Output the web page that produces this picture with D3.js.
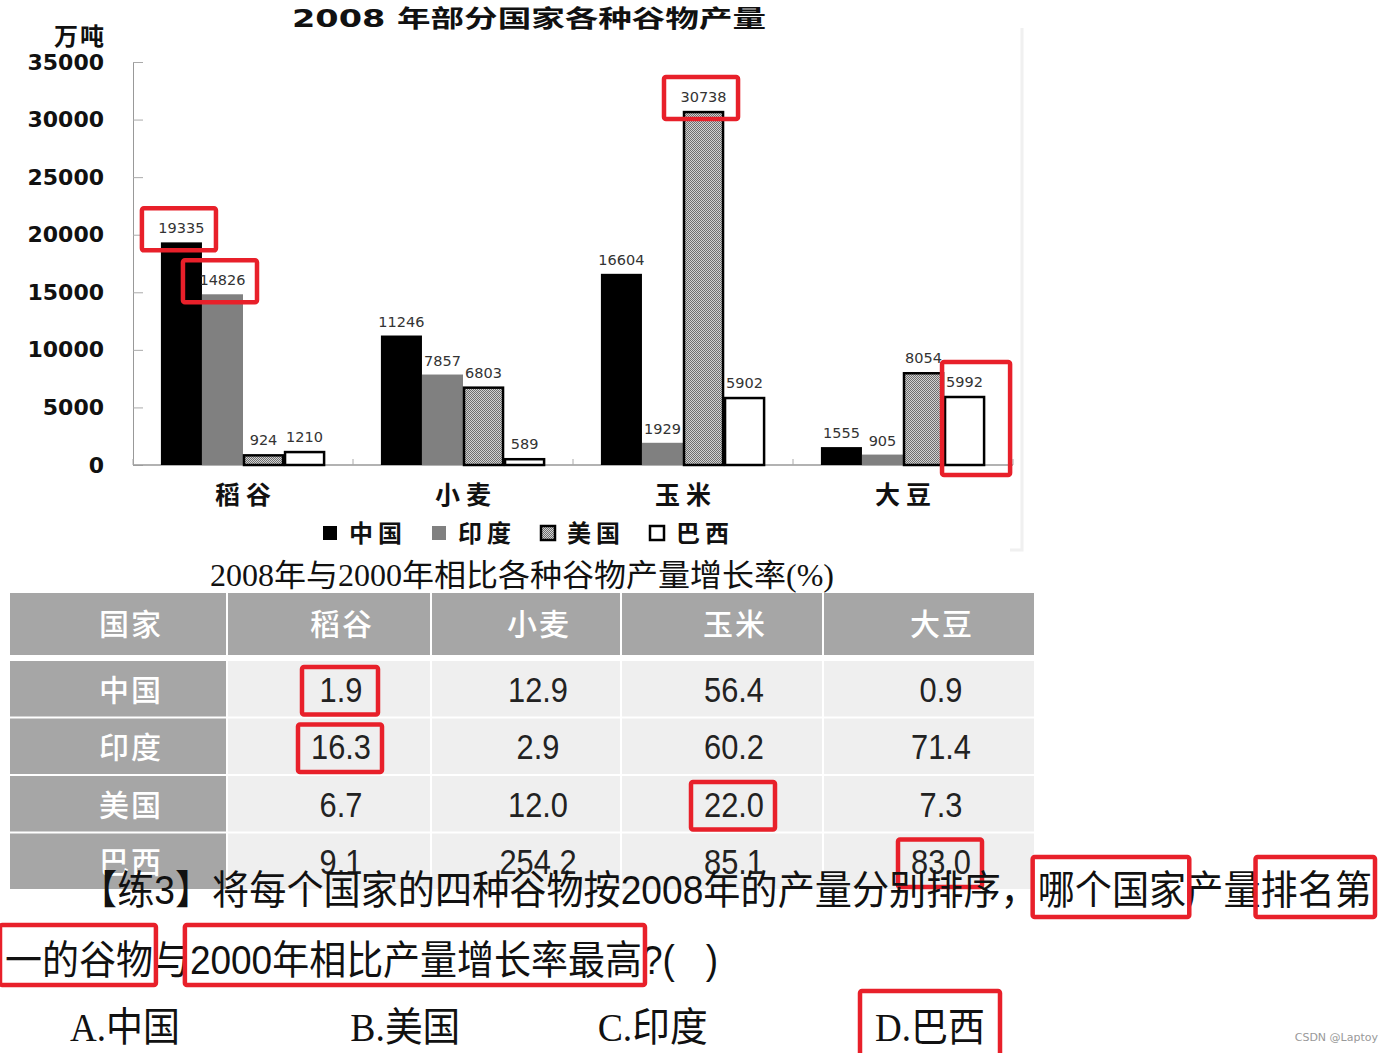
<!DOCTYPE html>
<html>
<head>
<meta charset="utf-8">
<script src="https://cdn.jsdelivr.net/npm/d3@7"></script>
<style>
  body { margin: 0; background: #fff; }
  svg { display: block; }
</style>
</head>
<body>
<script>
// chart data (万吨)
const crops = ["稻谷", "小麦", "玉米", "大豆"];
const countries = ["中国", "印度", "美国", "巴西"];
const chinaOutput = [19335, 11246, 16604, 1555];
const indiaOutput = [14826, 7857, 1929, 905];
const usaOutput = [924, 6803, 30738, 8054];
const brazilOutput = [1210, 589, 5902, 5992];
const yTicks = [0, 5000, 10000, 15000, 20000, 25000, 30000, 35000];

// growth rate table (%)
const growthChina = [1.9, 12.9, 56.4, 0.9];
const growthIndia = [16.3, 2.9, 60.2, 71.4];
const growthUSA = [6.7, 12.0, 22.0, 7.3];
const growthBrazil = [9.1, 254.2, 85.1, 83.0];

// red marks
const barMarks = [["稻谷", "中国", "top"], ["稻谷", "印度", "top"], ["玉米", "美国", "top"], ["大豆", "巴西", "whole"]];
const cellMarks = [["中国", "稻谷"], ["印度", "稻谷"], ["美国", "玉米"], ["巴西", "大豆"]];

const question1 = "【练3】将每个国家的四种谷物按2008年的产量分别排序，哪个国家产量排名第";
const question2 = "一的谷物与2000年相比产量增长率最高?(   )";
const options = ["A.中国", "B.美国", "C.印度", "D.巴西"];
const textMarks1 = ["哪个国家", "排名第"];
const textMarks2 = ["一的谷物", "2000年相比产量增长率最高"];

const outputs = [chinaOutput, indiaOutput, usaOutput, brazilOutput];
const growth = [growthChina, growthIndia, growthUSA, growthBrazil];

const width = 1394, height = 1053;
const RED = "#e8202a";
const CJK = "'Noto Sans CJK SC', sans-serif";

const svg = d3.select("body").append("svg")
  .attr("width", width)
  .attr("height", height)
  .attr("viewBox", [0, 0, width, height]);

const defs = svg.append("defs");
const pat = defs.append("pattern")
  .attr("id", "hatch")
  .attr("width", 2).attr("height", 2)
  .attr("patternUnits", "userSpaceOnUse");
pat.append("rect").attr("width", 2).attr("height", 2).attr("fill", "#d2d2d2");
pat.append("rect").attr("width", 1).attr("height", 1).attr("fill", "#6e6e6e");
pat.append("rect").attr("x", 1).attr("y", 1).attr("width", 1).attr("height", 1).attr("fill", "#6e6e6e");

const fills = ["#000", "#808080", "url(#hatch)", "#fff"];
const strokes = ["none", "none", "#000", "#000"];

// ---------- bar chart ----------
const x0 = d3.scaleBand().domain(crops).range([133, 1013]);
const x1 = d3.scaleBand().domain(countries).range([0, x0.bandwidth()]).paddingOuter(0.68);
const y = d3.scaleLinear().domain([0, 35000]).range([465, 62]);

// faint frame on the right
svg.append("path")
  .attr("d", "M1022,28V550H1010")
  .attr("fill", "none")
  .attr("stroke", "#f0f0f0")
  .attr("stroke-width", 3);

svg.append("text")
  .attr("x", 529).attr("y", 27)
  .attr("text-anchor", "middle")
  .attr("textLength", 474)
  .attr("lengthAdjust", "spacingAndGlyphs")
  .style("font", `bold 24px 'DejaVu Sans', ${CJK}`)
  .attr("fill", "#111")
  .text("2008 年部分国家各种谷物产量");

svg.append("text")
  .attr("x", 80).attr("y", 45)
  .attr("text-anchor", "middle")
  .style("font", `bold 24px ${CJK}`)
  .style("letter-spacing", "2px")
  .attr("fill", "#111")
  .text("万吨");

const yAxis = svg.append("g")
  .attr("transform", "translate(133,0)")
  .call(d3.axisLeft(y).tickValues(yTicks).tickSize(-10).tickPadding(29).tickFormat(d3.format("d")));
yAxis.select(".domain").attr("stroke", "#999");
yAxis.selectAll(".tick line").attr("stroke", "#aaa");
yAxis.selectAll(".tick text")
  .style("font", "bold 22px 'DejaVu Sans'")
  .attr("fill", "#111");

// x axis line with ticks at category borders
const xAxis = svg.append("g").attr("transform", `translate(0,${y(0)})`);
xAxis.append("line")
  .attr("x1", x0.range()[0]).attr("x2", x0.range()[1])
  .attr("stroke", "#999").attr("stroke-width", 1.5);
xAxis.selectAll(".xt")
  .data(crops.map(c => x0(c)).concat([x0.range()[1]]))
  .join("line")
  .attr("x1", d => d).attr("x2", d => d)
  .attr("y1", 0).attr("y2", -6)
  .attr("stroke", "#aaa");

xAxis.selectAll(".cat")
  .data(crops)
  .join("text")
  .attr("x", d => x0(d) + x0.bandwidth() / 2 + 3)
  .attr("y", 39)
  .attr("text-anchor", "middle")
  .style("font", `bold 25px ${CJK}`)
  .style("letter-spacing", "6px")
  .attr("fill", "#111")
  .text(d => d);

const barData = [];
crops.forEach((c, i) => {
  countries.forEach((k, j) => {
    barData.push({crop: c, country: k, j: j, value: outputs[j][i]});
  });
});

const groups = svg.append("g");
groups.selectAll("rect")
  .data(barData)
  .join("rect")
  .attr("x", d => x0(d.crop) + x1(d.country) + (d.j > 1 ? 1 : 0))
  .attr("y", d => y(d.value) + (d.j > 1 ? 1 : 0))
  .attr("width", d => x1.bandwidth() - (d.j > 1 ? 2 : 0))
  .attr("height", d => y(0) - y(d.value) - (d.j > 1 ? 1 : 0))
  .attr("fill", d => fills[d.j])
  .attr("stroke", d => strokes[d.j])
  .attr("stroke-width", 2.5);

svg.append("g").selectAll("text")
  .data(barData)
  .join("text")
  .attr("x", d => x0(d.crop) + x1(d.country) + x1.bandwidth() / 2)
  .attr("y", d => y(d.value) - 9)
  .attr("text-anchor", "middle")
  .style("font", "14.5px 'DejaVu Sans'")
  .attr("fill", "#333")
  .text(d => d.value);

// legend
const legend = svg.append("g").attr("transform", "translate(322,533)");
const items = legend.selectAll("g")
  .data(countries)
  .join("g")
  .attr("transform", (d, i) => `translate(${i * 109},0)`);
items.append("rect")
  .attr("x", 1).attr("y", -7)
  .attr("width", 14).attr("height", 14)
  .attr("fill", (d, i) => fills[i])
  .attr("stroke", (d, i) => strokes[i])
  .attr("stroke-width", 2.5);
items.append("text")
  .attr("x", 27).attr("y", 9)
  .style("font", `bold 24px ${CJK}`)
  .style("letter-spacing", "5px")
  .attr("fill", "#111")
  .text(d => d);

// red marks in chart
svg.append("g").selectAll("rect")
  .data(barMarks)
  .join("rect")
  .each(function(m) {
    const j = countries.indexOf(m[1]);
    const v = outputs[j][crops.indexOf(m[0])];
    const bx = x0(m[0]) + x1(m[1]);
    const top = y(v) - 34;
    const bottom = m[2] === "whole" ? y(0) + 10 : y(v) + 8;
    const left = m[2] === "whole" ? bx - 2 : bx - 19;
    const right = m[2] === "whole" ? bx + x1.bandwidth() + 25 : bx + x1.bandwidth() + 14;
    d3.select(this)
      .attr("x", left).attr("y", top)
      .attr("width", right - left).attr("height", bottom - top);
  })
  .attr("fill", "none")
  .attr("stroke", RED)
  .attr("stroke-width", 4.5)
  .attr("rx", 2);

// ---------- table ----------
svg.append("text")
  .attr("x", 210).attr("y", 586)
  .attr("textLength", 624)
  .attr("lengthAdjust", "spacingAndGlyphs")
  .style("font", `31px 'Liberation Serif', ${CJK}`)
  .attr("fill", "#111")
  .text("2008年与2000年相比各种谷物产量增长率(%)");

const colEdges = [10, 228, 432, 622, 824, 1036];
const headTop = 593, headH = 62;
const textShift = 12;
const rowTop = d3.scaleBand().domain(countries).range([661, 889]).paddingInner(0.035);
const colX = i => colEdges[i];
const colW = i => colEdges[i + 1] - colEdges[i] - 2;
const colMid = i => colX(i) + colW(i) / 2 + textShift;

const header = ["国家"].concat(crops);
const table = svg.append("g");
table.selectAll(".hc")
  .data(header)
  .join("rect")
  .attr("x", (d, i) => colX(i))
  .attr("y", headTop)
  .attr("width", (d, i) => colW(i))
  .attr("height", headH)
  .attr("fill", "#a6a6a6");
table.selectAll(".ht")
  .data(header)
  .join("text")
  .attr("x", (d, i) => colMid(i) + 1)
  .attr("y", headTop + headH / 2 + 11)
  .attr("text-anchor", "middle")
  .style("font", `500 30px ${CJK}`)
  .style("letter-spacing", "2px")
  .attr("fill", "#fff")
  .text(d => d);

const rows = table.selectAll(".row")
  .data(countries)
  .join("g")
  .attr("transform", d => `translate(0,${rowTop(d)})`);
rows.append("rect")
  .attr("x", colX(0)).attr("width", colW(0))
  .attr("height", rowTop.bandwidth())
  .attr("fill", "#a6a6a6");
rows.append("text")
  .attr("x", colMid(0) + 1)
  .attr("y", rowTop.bandwidth() / 2 + 12)
  .attr("text-anchor", "middle")
  .style("font", `500 30px ${CJK}`)
  .style("letter-spacing", "2px")
  .attr("fill", "#fff")
  .text(d => d);

const cells = rows.selectAll(".cell")
  .data((d, r) => growth[r].map((v, c) => ({row: d, crop: crops[c], c: c + 1, v: v})))
  .join("g");
cells.append("rect")
  .attr("x", d => colX(d.c))
  .attr("width", d => colW(d.c))
  .attr("height", rowTop.bandwidth())
  .attr("fill", "#efefef");
cells.append("text")
  .attr("transform", d => `translate(${colMid(d.c)},${rowTop.bandwidth() / 2 + 13}) scale(0.88,1)`)
  .attr("text-anchor", "middle")
  .style("font", "35px 'Liberation Sans'")
  .attr("fill", "#222")
  .text(d => d.v.toFixed(1));

// red marks in table
table.append("g").selectAll("rect")
  .data(cellMarks)
  .join("rect")
  .each(function(m) {
    const c = crops.indexOf(m[1]) + 1;
    const r = countries.indexOf(m[0]);
    const txt = growth[r][c - 1].toFixed(1);
    const w = Math.max(76, txt.length * 18 + 12);
    const cx = colMid(c) - 1;
    d3.select(this)
      .attr("x", cx - w / 2)
      .attr("y", rowTop(m[0]) + 6)
      .attr("width", w)
      .attr("height", rowTop.bandwidth() - 8);
  })
  .attr("fill", "none")
  .attr("stroke", RED)
  .attr("stroke-width", 4.5)
  .attr("rx", 2);

// ---------- question ----------
const qFont = `40px 'Liberation Sans', ${CJK}`;
const q1 = svg.append("text")
  .attr("x", 80).attr("y", 904)
  .attr("textLength", 1292)
  .attr("lengthAdjust", "spacingAndGlyphs")
  .style("font", qFont)
  .attr("fill", "#111")
  .text(question1);
const q2 = svg.append("text")
  .attr("x", 5).attr("y", 974)
  .attr("textLength", 713)
  .attr("lengthAdjust", "spacingAndGlyphs")
  .style("font", qFont)
  .style("white-space", "pre")
  .attr("fill", "#111")
  .text(question2);

const optX = d3.scalePoint().domain(options).range([70, 875]);
const optNudge = [0, 12, -9, 0];
const opts = svg.append("g").selectAll("text")
  .data(options)
  .join("text")
  .attr("x", (d, i) => optX(d) + optNudge[i])
  .attr("y", 1041)
  .attr("textLength", 110)
  .attr("lengthAdjust", "spacingAndGlyphs")
  .style("font", `40px 'Liberation Serif', ${CJK}`)
  .attr("fill", "#111")
  .text(d => d);

function markText(node, str, sub, base) {
  const s = str.indexOf(sub);
  const a = node.getExtentOfChar(s);
  const b = node.getExtentOfChar(s + sub.length - 1);
  svg.append("rect")
    .attr("x", a.x - 5)
    .attr("y", base - 47)
    .attr("width", b.x + b.width - a.x + 8)
    .attr("height", 60)
    .attr("fill", "none")
    .attr("stroke", RED)
    .attr("stroke-width", 4.5)
    .attr("rx", 2);
}
textMarks1.forEach(t => markText(q1.node(), question1, t, 904));
textMarks2.forEach(t => markText(q2.node(), question2, t, 972));
opts.filter(d => d === options[3]).each(function() {
  const bb = this.getBBox();
  svg.append("rect")
    .attr("x", bb.x - 15).attr("y", 991)
    .attr("width", bb.width + 30).attr("height", 70)
    .attr("fill", "none")
    .attr("stroke", RED)
    .attr("stroke-width", 4.5)
    .attr("rx", 2);
});

svg.append("text")
  .attr("x", 1378).attr("y", 1041)
  .attr("text-anchor", "end")
  .style("font", "11px 'DejaVu Sans'")
  .attr("fill", "#999")
  .text("CSDN @Laptoy");
</script>
</body>
</html>
